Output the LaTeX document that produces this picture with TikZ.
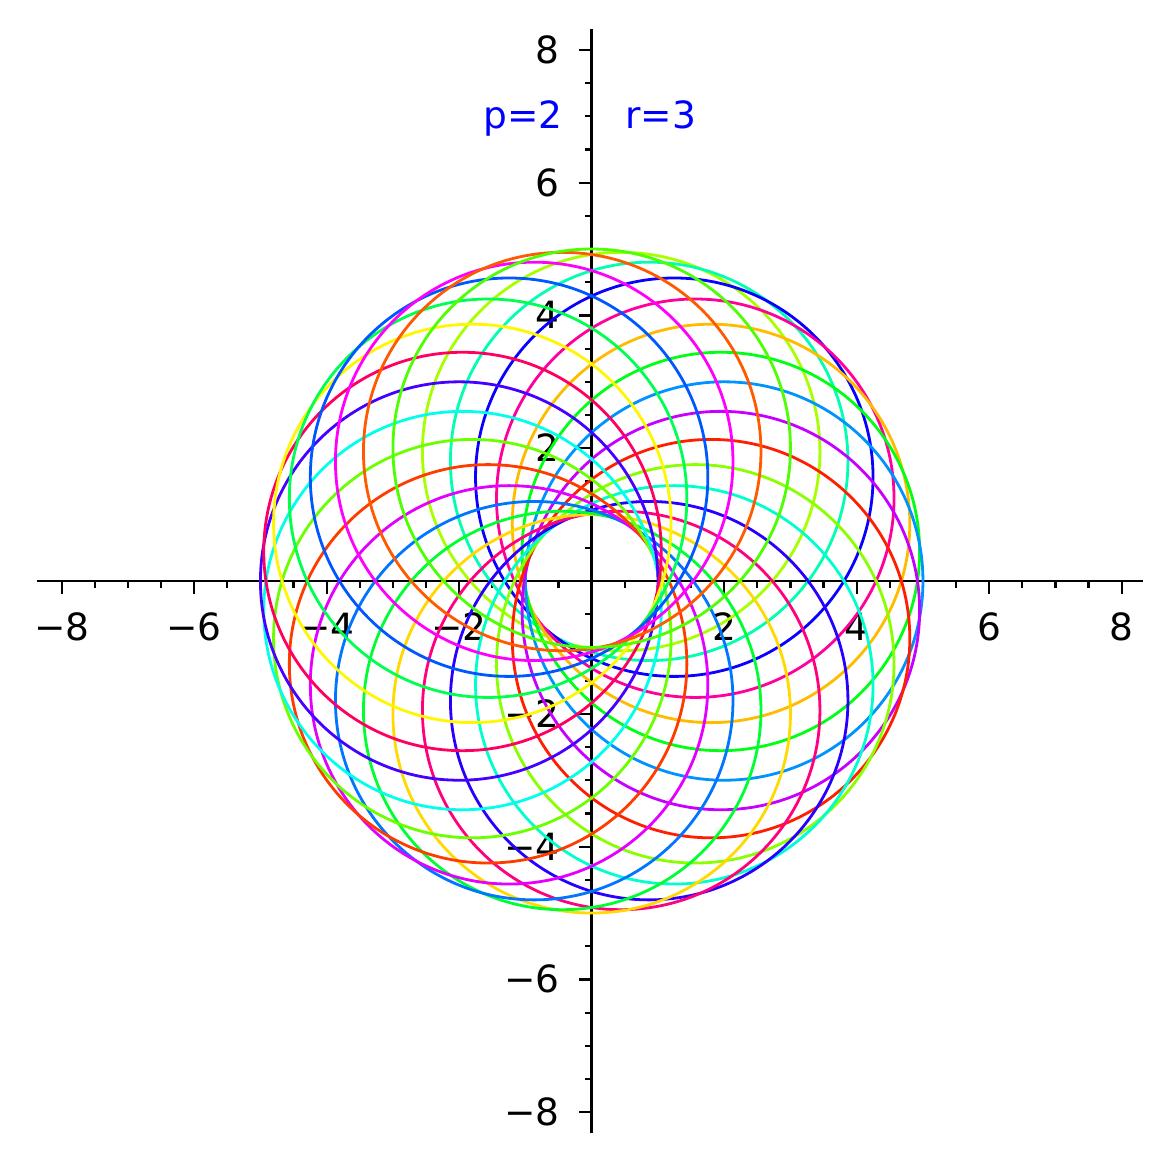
\documentclass[tikz,border=0pt]{standalone}
\usepackage{fontspec}
\setmainfont{DejaVu Sans}
\begin{document}
\begin{tikzpicture}[x=66.25pt,y=66.4pt,
  axisline/.style={line width=2.8pt,black},
  tickline/.style={line width=2.2pt,black},
  ticklabel/.style={font=\fontsize{37.5}{40}\selectfont,inner sep=0pt,text=black},
  infolabel/.style={font=\fontsize{37.5}{40}\selectfont,inner sep=0pt,text={rgb,255:red,0;green,0;blue,255}},
  ring/.style={line width=2.8pt}]
\useasboundingbox (-8.931,-8.795) rectangle (8.744,8.750);
% axes
\draw[axisline] (-8.37,0) -- (8.32,0);
\draw[axisline] (0,-8.31) -- (0,8.32);
% ticks
\foreach \i in {-16,...,16}{
  \pgfmathsetmacro\v{\i/2}
  \pgfmathtruncatemacro\rr{mod(abs(\i),4)}
  \ifnum\rr=0 \def\len{13pt}\else\def\len{7pt}\fi
  \ifnum\i=0\else
    \draw[tickline] (\v,0) -- ++(0,-\len);
    \draw[tickline] (0,\v) -- ++(-\len,0);
  \fi
}
% tick labels
\foreach \v/\t in {-8/−8,-6/−6,-4/−4,-2/−2,2/2,4/4,6/6,8/8}{
  \node[ticklabel,anchor=base] (xl\v) at (\v,-0.889) {\t};
  \node[ticklabel,anchor=base east] (yl\v) at (-0.483,\v-0.203) {\t};
}
% parameter labels
\node[infolabel,anchor=base] (plabel) at (-1.04,6.818) {p=2};
\node[infolabel,anchor=base] (rlabel) at (1.04,6.818) {r=3};
% circles
\foreach \m in {1,...,28}{
  \pgfmathsetmacro\tt{\m*2*pi/28}
  \pgfmathsetmacro\hh{\tt-floor(\tt)}
  \definecolor{cc}{hsb}{\hh,1,1}
  \draw[ring,cc] ({2*sin(\tt r)},{2*cos(\tt r)}) circle[radius=3];
}
\end{tikzpicture}
\end{document}
